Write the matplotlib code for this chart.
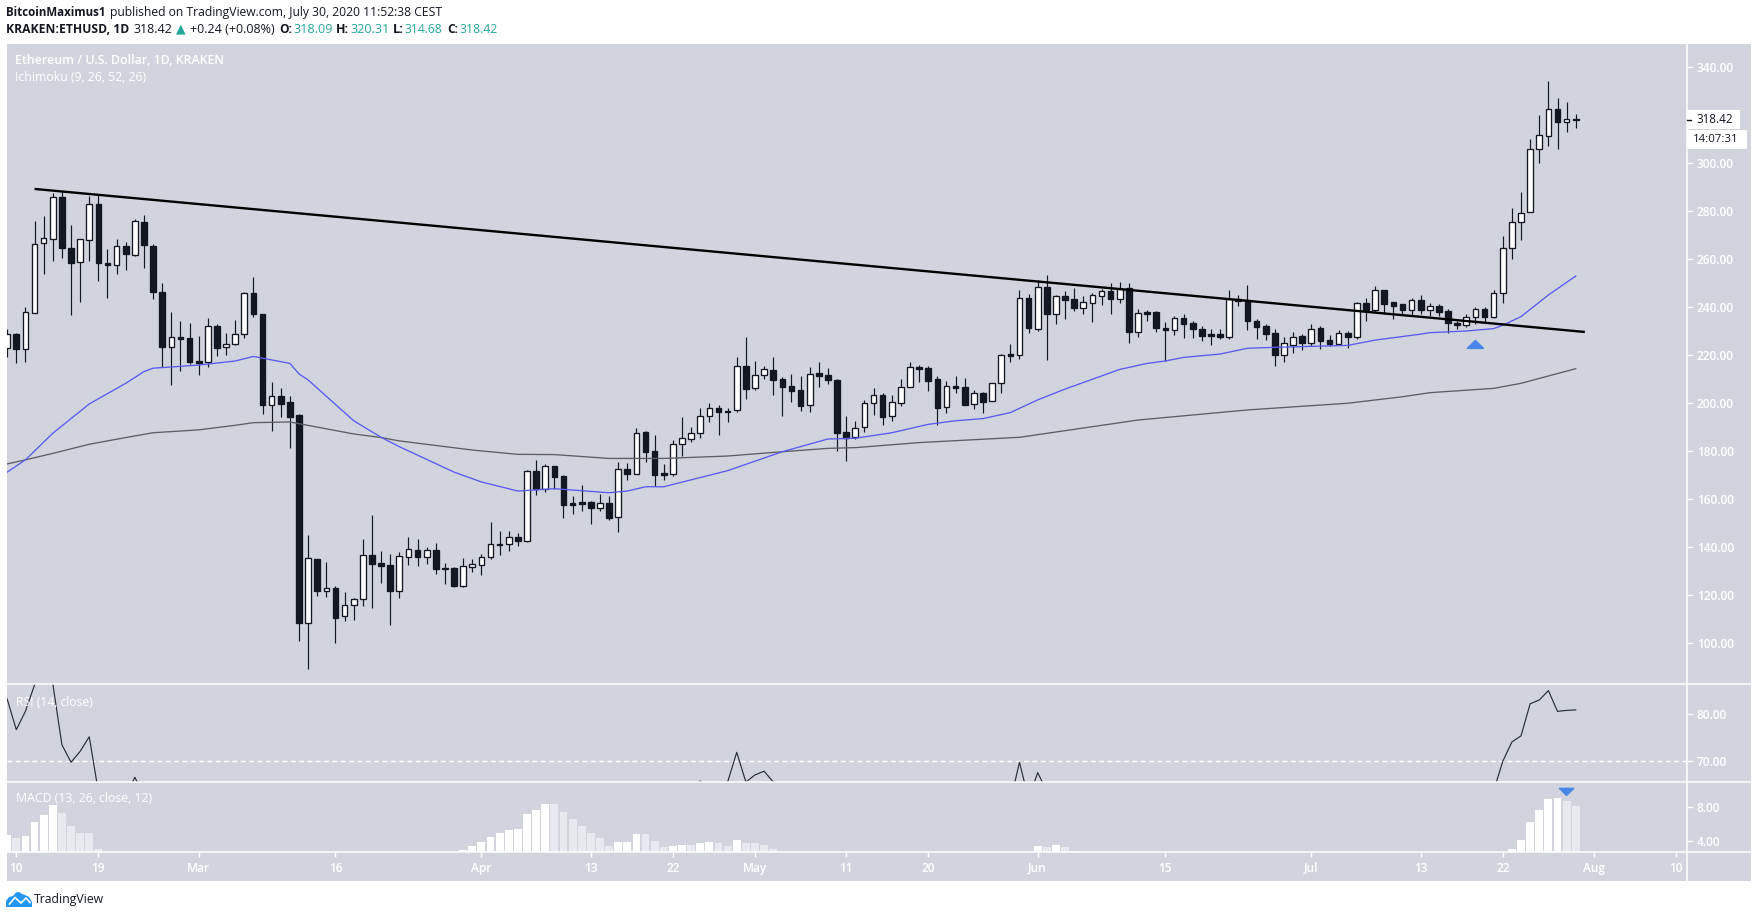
import numpy as np
import matplotlib
matplotlib.use("Agg")
import matplotlib.pyplot as plt
from matplotlib.patches import Rectangle, Polygon
from matplotlib.lines import Line2D

plt.rcParams['font.family'] = ['Open Sans', 'DejaVu Sans']

# Daily candles, 9 Feb 2020 .. 30 Jul 2020 (day number 0 = 10 Feb)
opens = [223.1,228.6,222.6,237.6,266.6,268.2,285.8,264.6,258.6,267.8,282.9,258.2,257.4,265.3,261.8,275.4,265.4,246.3,223.5,227.4,227.1,
 217.4,217.2,232.0,223.5,224.4,228.6,245.8,237.1,199.0,202.9,200.4,195.0,108.2,135.0,121.8,122.9,111.1,115.7,118.2,136.7,133.3,132.5,121.8,136.0,138.8,136.0,138.8,131.3,131.3,123.9,131.8,
 132.6,136.0,141.0,141.1,144.2,142.6,171.7,164.2,173.8,169.6,158.2,158.6,158.8,156.4,158.3,152.4,172.5,170.6,187.9,180.0,170.7,170.6,182.8,185.1,187.4,194.4,197.8,196.3,197.0,215.3,
 206.1,211.5,213.8,210.0,207.1,205.4,199.0,212.5,211.7,209.6,187.9,185.7,189.9,199.9,203.3,194.4,199.9,206.5,215.0,214.6,209.9,198.2,207.0,206.7,199.4,204.0,200.7,208.2,220.3,220.1,243.6,
 231.0,248.3,237.2,244.6,243.2,239.7,241.8,244.7,246.7,243.5,247.9,229.7,237.9,237.9,231.1,230.6,235.3,233.2,230.8,228.6,228.7,227.6,243.2,242.8,234.2,232.1,229.2,220.1,224.3,227.9,
 225.1,231.2,226.2,224.7,229.2,227.6,241.7,238.9,247.1,242.1,241.3,238.9,242.9,238.9,240.3,238.2,233.3,232.4,235.7,239.0,235.8,245.7,264.4,275.3,279.4,305.7,311.1,322.4,317.2,318.09]
highs = [230.7,229.0,239.9,276.0,277.9,287.4,288.5,274.2,268.5,286.3,286.7,264.0,268.3,267.1,276.7,278.3,266.1,250.0,237.9,234.2,233.3,
 227.9,235.4,232.9,229.0,234.6,246.1,252.5,237.1,208.8,206.3,202.9,195.4,145.0,135.0,133.8,123.8,121.2,118.7,143.3,153.3,138.2,137.1,137.8,144.2,143.3,139.9,141.5,133.3,131.7,135.4,135.0,
 137.1,150.4,146.7,146.7,145.7,172.1,176.3,174.6,173.8,170.0,161.3,165.8,159.2,162.1,161.3,175.4,175.0,189.6,188.3,186.7,174.6,184.6,194.2,189.9,197.8,199.9,199.2,197.8,219.2,227.5,
 217.5,215.4,219.2,210.8,212.1,211.3,215.0,217.1,214.6,210.0,194.6,192.3,201.3,206.3,204.2,203.3,210.0,217.1,215.8,215.4,211.3,209.2,211.3,210.4,205.4,204.6,208.2,220.4,224.6,247.1,245.3,
 251.1,253.3,245.0,246.7,247.9,244.6,245.8,247.5,250.0,250.4,250.0,239.0,238.7,238.3,233.8,236.3,237.1,234.2,232.1,230.8,230.8,247.1,245.0,249.2,235.0,232.9,230.8,227.5,229.6,228.7,
 232.9,232.1,228.3,230.4,230.0,242.1,243.6,248.8,247.1,242.1,241.3,243.6,245.0,241.7,241.3,239.2,234.2,237.1,240.0,240.0,247.1,269.6,281.3,287.9,310.0,320.0,334.2,327.1,325.4,320.31]
lows = [219.3,216.5,217.2,237.6,253.8,259.3,260.6,236.8,242.2,259.3,251.0,243.9,253.8,255.6,261.4,256.4,243.5,214.9,207.6,213.5,216.3,
 211.8,215.1,219.6,220.1,224.3,227.2,236.0,195.6,188.5,194.3,181.4,101.0,89.3,119.6,119.2,100.1,109.3,109.6,115.4,114.6,125.1,107.6,118.7,132.5,132.1,132.9,128.8,124.6,123.3,123.3,129.6,
 128.3,135.0,136.7,138.3,140.4,142.1,161.7,162.9,164.2,152.1,153.8,155.0,149.6,155.0,151.2,146.2,167.9,170.6,175.4,165.4,167.9,169.6,177.9,183.7,185.4,192.1,186.7,192.1,196.3,201.7,
 205.4,210.0,203.3,194.6,200.4,196.7,196.3,206.7,207.9,180.0,175.8,185.0,187.9,195.0,190.8,192.5,198.7,206.5,208.8,205.0,190.8,195.8,204.2,199.3,197.5,195.8,200.7,204.2,217.1,218.4,229.2,
 230.1,217.9,232.9,235.0,238.3,237.1,233.8,240.8,237.1,241.7,225.0,227.5,234.2,229.6,217.5,228.3,227.1,227.1,225.8,224.2,226.7,226.8,240.4,230.4,226.7,226.2,215.4,217.1,220.8,222.1,
 223.7,222.5,223.7,224.2,222.9,226.8,234.2,237.9,237.1,235.0,236.8,236.3,237.1,236.3,236.3,229.2,230.8,231.7,232.9,233.8,235.4,241.7,260.0,267.9,279.4,300.0,307.1,305.8,312.9,314.68]
closes = [228.6,222.6,237.8,266.1,268.6,285.7,264.7,258.5,268.2,282.8,258.5,257.6,265.3,262.2,275.7,265.7,246.4,223.5,227.4,226.8,217.1,
 216.8,232.0,223.1,224.4,228.6,245.8,237.2,199.3,203.1,199.7,194.3,108.5,135.3,121.8,122.8,110.6,115.7,118.2,136.5,133.1,132.2,121.8,136.1,139.0,136.0,138.6,131.0,130.8,123.8,132.0,132.8,
 135.7,141.1,141.4,144.0,142.5,171.7,164.2,173.6,169.2,157.5,157.6,158.1,156.3,158.2,152.1,172.4,170.4,187.4,179.6,170.0,170.1,182.8,185.3,187.4,194.4,197.8,196.3,196.7,215.3,206.0,
 211.5,214.0,209.6,206.7,205.2,198.9,212.0,211.4,209.6,187.6,185.4,189.4,199.9,203.2,194.3,200.3,206.5,214.9,214.3,209.3,198.0,207.0,206.4,199.3,204.0,200.6,208.2,219.9,219.6,243.6,231.4,
 248.2,237.2,244.4,242.9,239.6,241.9,244.9,246.5,243.3,247.6,229.6,237.4,237.2,231.2,230.6,235.3,232.9,230.8,227.9,228.1,227.5,243.2,242.6,234.2,231.7,228.7,220.0,224.9,227.4,225.0,
 230.7,225.9,224.4,229.0,227.5,241.5,238.8,246.9,241.3,240.4,238.8,242.8,238.8,240.3,237.9,233.3,232.4,235.7,239.0,235.8,245.8,264.4,275.3,279.0,305.7,311.5,322.4,317.2,318.2,318.42]
candle_days = list(range(-1, 172))

# Moving-average style lines: day number, price
blue_days = [-1,1,4,8,12,14,15,20,24,26,30,31,32,37,40,42,48,51,55,59,65,67,69,71,78,84,89,92,96,100,103,106,109,112,115,121,124,126,128,132,135,138,146,149,154,155,159,162,163,165,168,171]
blue_vals = [171.2,176.3,187.4,199.6,208.2,213.1,214.5,215.8,217.5,219.4,216.5,212.1,209.6,192.6,185.7,181.8,171.2,167.1,163.3,164.3,162.6,163.3,165.1,165.1,171.8,179.7,185.0,185.3,187.6,191.1,192.6,193.5,196.0,201.3,205.8,214.0,216.5,217.5,219.0,220.4,222.8,223.2,224.0,226.2,228.7,229.3,230.0,231.0,232.4,236.0,245.0,252.9]
grey_days = [-1,1,4,8,12,15,20,24,26,30,37,40,42,50,55,59,65,71,78,84,89,92,99,110,123,135,146,152,155,162,165,171]
grey_vals = [174.6,176.3,179.0,182.8,185.6,187.6,188.8,190.7,191.8,192.1,187.1,185.6,184.2,180.4,178.6,178.5,176.9,176.9,177.9,179.7,181.1,181.4,183.5,185.7,192.9,197.1,199.9,202.6,204.3,206.1,208.2,214.3]

trend_days = [2, 172]
trend_vals = [289.2, 229.6]

# RSI, visible stretches only (nan = gap below the pane)
rsi_days = [-1,0,1,2,3,4,5,6,7,8,9,10,12,13,14,15,74,75,76,77,78,79,80,81,82,83,84,85,109,110,111,112,113,114,162,163,164,165,166,167,168,169,170,171]
rsi_vals = [83.2,76.7,80.6,86.2,89.0,86.5,73.5,69.8,72.1,75.2,63.5,np.nan,62.6,66.6,62.6,np.nan,64.0,65.8,64.0,np.nan,65.6,71.9,65.6,67.1,67.9,65.6,63.0,np.nan,61.4,69.8,62.0,67.6,63.6,np.nan,63.7,70.0,74.1,75.4,82.2,83.0,85.0,80.6,80.8,80.9]

# MACD histogram
macd_days = [-1,0,1,2,3,4,5,6,7,8,9,
 49,50,51,52,53,54,55,56,57,58,59,60,61,62,63,64,65,66,67,68,69,70,71,72,73,74,75,76,77,78,79,80,81,82,83,
 112,113,114,115,116,164,165,166,167,168,169,170,171]
macd_vals = [4.75,4.39,4.63,6.16,6.98,8.16,7.22,5.80,4.98,4.98,3.10,
 2.98,3.45,3.92,4.51,4.98,5.33,5.45,7.10,7.57,8.27,8.27,7.33,6.51,5.69,4.98,4.39,3.45,3.92,3.92,4.86,4.86,4.04,3.33,3.45,3.57,3.57,3.80,3.92,3.80,3.45,4.16,3.80,3.80,3.57,3.10,
 3.45,3.33,3.57,3.33,2.86,3.10,4.16,6.16,7.57,8.86,8.98,8.63,8.04]
macd_rising = [1,0,1,1,1,1,0,0,0,0,0,
 1,1,1,1,1,1,1,1,1,1,0,0,0,0,0,0,0,1,1,1,0,0,0,1,1,0,1,1,0,0,1,0,0,0,0,
 1,0,1,0,0,1,1,1,1,1,1,0,0]

tick_days = [0,9,20,35,51,63,72,81,91,100,112,126,142,154,163,173,182]
tick_labels = ['10','19','Mar','16','Apr','13','22','May','11','20','Jun','15','Jul','13','22','Aug','10']
price_ticks = list(range(100, 341, 20))

W, H = 1758, 918
PANEL = '#d1d4dc'
DARK = '#131722'
BLUE = '#4a86e8'
TEAL = '#26a69a'

fig = plt.figure(figsize=(W/100, H/100), dpi=100, facecolor='white')

def fx(x): return x / W
def fy(y): return 1 - y / H

fig.add_artist(Rectangle((fx(7), fy(881)), (1751-7)/W, (881-44)/H, transform=fig.transFigure,
                         facecolor=PANEL, edgecolor='none', zorder=-10))

def pane(top, bottom):
    ax = fig.add_axes([fx(7), fy(bottom), (1687-7)/W, (bottom-top)/H], facecolor='none')
    ax.set_xlim(-1.02, 183.2)
    for s in ax.spines.values():
        s.set_visible(False)
    ax.yaxis.tick_right()
    ax.tick_params(axis='y', colors='white', length=4, width=1, labelsize=8.6, pad=3)
    ax.set_xticks([])
    return ax

ax = pane(44, 684)
ax.set_ylim(82.9, 349.6)
ax.set_yticks(price_ticks)
ax.set_yticklabels([f'{v:.2f}' for v in price_ticks], fontweight='semibold')

o, h, l, c = map(np.array, (opens, highs, lows, closes))
d = np.array(candle_days)
ax.vlines(d, l, h, color=DARK, lw=0.85, zorder=2)
up = c >= o
ax.bar(d[up], (c-o)[up], bottom=o[up], width=0.62, facecolor='white', edgecolor=DARK, linewidth=0.95, zorder=3)
ax.bar(d[~up], (o-c)[~up], bottom=c[~up], width=0.62, facecolor=DARK, edgecolor=DARK, linewidth=0.95, zorder=3)

ax.plot(grey_days, grey_vals, color='#5d5e63', lw=0.95, zorder=4)
ax.plot(blue_days, blue_vals, color='#5a5af0', lw=0.95, zorder=4)
ax.plot(trend_days, trend_vals, color='black', lw=1.7, zorder=5, solid_capstyle='butt')
ax.add_patch(Polygon([(159.14, 222.8), (160.0, 226.0), (160.86, 222.8)], closed=True,
                     facecolor=BLUE, edgecolor=BLUE, linewidth=1.2, joinstyle='round', zorder=5))

rsi = pane(684, 782)
rsi.set_ylim(65.6, 86.4)
rsi.set_yticks([70, 80])
rsi.set_yticklabels(['70.00', '80.00'], fontweight='semibold')
rsi.axhline(70, color='white', lw=1, dashes=(3.5, 2.5), zorder=1)
rsi.plot(rsi_days, rsi_vals, color='#2a2e39', lw=0.85, zorder=3)

macd = pane(782, 852)
macd.set_ylim(2.7, 10.9)
macd.set_yticks([4, 8])
macd.set_yticklabels(['4.00', '8.00'], fontweight='semibold')
mc = ['white' if r else '#e8e9ee' for r in macd_rising]
macd.bar(macd_days, np.array(macd_vals) - 2.7, bottom=2.7, width=0.86, color=mc, zorder=2)
macd.add_patch(Polygon([(169.24, 10.14), (170.76, 10.14), (170.0, 9.35)], closed=True,
                       facecolor=BLUE, edgecolor=BLUE, linewidth=1.2, joinstyle='round', zorder=3))
macd.set_xticks(tick_days)
macd.set_xticklabels(tick_labels, fontweight='semibold')
macd.tick_params(axis='x', colors='white', length=3.6, width=1, labelsize=8.6, pad=3.5)

# pane separators
for y in (684, 782, 852):
    fig.add_artist(Line2D([fx(7), fx(1751)], [fy(y), fy(y)], color='white', lw=1.1, zorder=6))
fig.add_artist(Line2D([fx(1687), fx(1687)], [fy(44), fy(881)], color='white', lw=1.1, zorder=6))

renderer = fig.canvas.get_renderer()

def txt(x, y, s, right=None, **kw):
    """Place text at a pixel position; if right is given, fit its size to that extent."""
    kw.setdefault('fontsize', 9)
    kw.setdefault('va', 'center')
    kw.setdefault('color', DARK)
    t = fig.text(fx(x), fy(y), s, **kw)
    if right is not None:
        w = t.get_window_extent(renderer).width
        t.set_fontsize(t.get_fontsize() * (right - x) / w)
    return t

# header
txt(6.5, 12.7, 'BitcoinMaximus1', right=106, fontweight='bold')
txt(110, 12.7, 'published on TradingView.com, July 30, 2020 11:52:38 CEST', right=443)
txt(6.5, 29.3, 'KRAKEN:ETHUSD, 1D', right=129, fontweight='bold')
txt(134, 29.3, '318.42', right=173)
txt(181, 29.3, '▲', color=TEAL, ha='center', fontsize=9, family=['DejaVu Sans'])
txt(190, 29.3, '+0.24 (+0.08%)', right=275)
for x, r, s in ((279, 292, 'O:'), (336, 349, 'H:'), (393, 404, 'L:'), (447, 458, 'C:')):
    txt(x, 29.3, s, right=r, fontweight='bold')
for x, r, s in ((293, 332, '318.09'), (350, 389, '320.31'), (405, 443, '314.68'), (459, 497, '318.42')):
    txt(x, 29.3, s, right=r, color=TEAL)

# pane captions
txt(15.3, 60.5, 'Ethereum / U.S. Dollar, 1D, KRAKEN', right=225, color='white', fontweight='semibold', zorder=7)
txt(15.3, 77.5, 'Ichimoku (9, 26, 52, 26)', right=147, color='white', zorder=7)
txt(15.7, 702, 'RSI (14, close)', right=92.6, color='white', zorder=7)
txt(15.7, 799, 'MACD (13, 26, close, 12)', right=152.6, color='white', zorder=7)

# last price and countdown
fig.add_artist(Rectangle((fx(1687), fy(129)), 53/W, 19/H, transform=fig.transFigure, facecolor='white', edgecolor='none', zorder=7))
fig.add_artist(Rectangle((fx(1687), fy(149)), 60/W, 19/H, transform=fig.transFigure, facecolor='white', edgecolor='none', zorder=7))
fig.add_artist(Line2D([fx(1687), fx(1691)], [fy(119.5), fy(119.5)], color=DARK, lw=1, zorder=8))
txt(1696, 119.7, '318.42', right=1732, zorder=8)
txt(1693, 139.7, '14:07:31', right=1738, zorder=8)

# TradingView mark
cloud = [(6,907),(6,901),(9,897),(13,896),(16,892.5),(19,892),(22,894),(25,895),(29,897),(32,902),(32,907)]
fig.add_artist(Polygon([(fx(a), fy(b)) for a, b in cloud], closed=True, transform=fig.transFigure,
                       facecolor='#2196f3', edgecolor='none', zorder=5))
zig = [(9.5,904),(15,897.5),(21,903),(26,898),(30,902.5)]
fig.add_artist(Line2D([fx(a) for a, b in zig], [fy(b) for a, b in zig], color='white', lw=1.2, zorder=6))
txt(34.3, 899.5, 'TradingView', right=105)

fig.savefig('out.png', dpi=100, facecolor='white')
